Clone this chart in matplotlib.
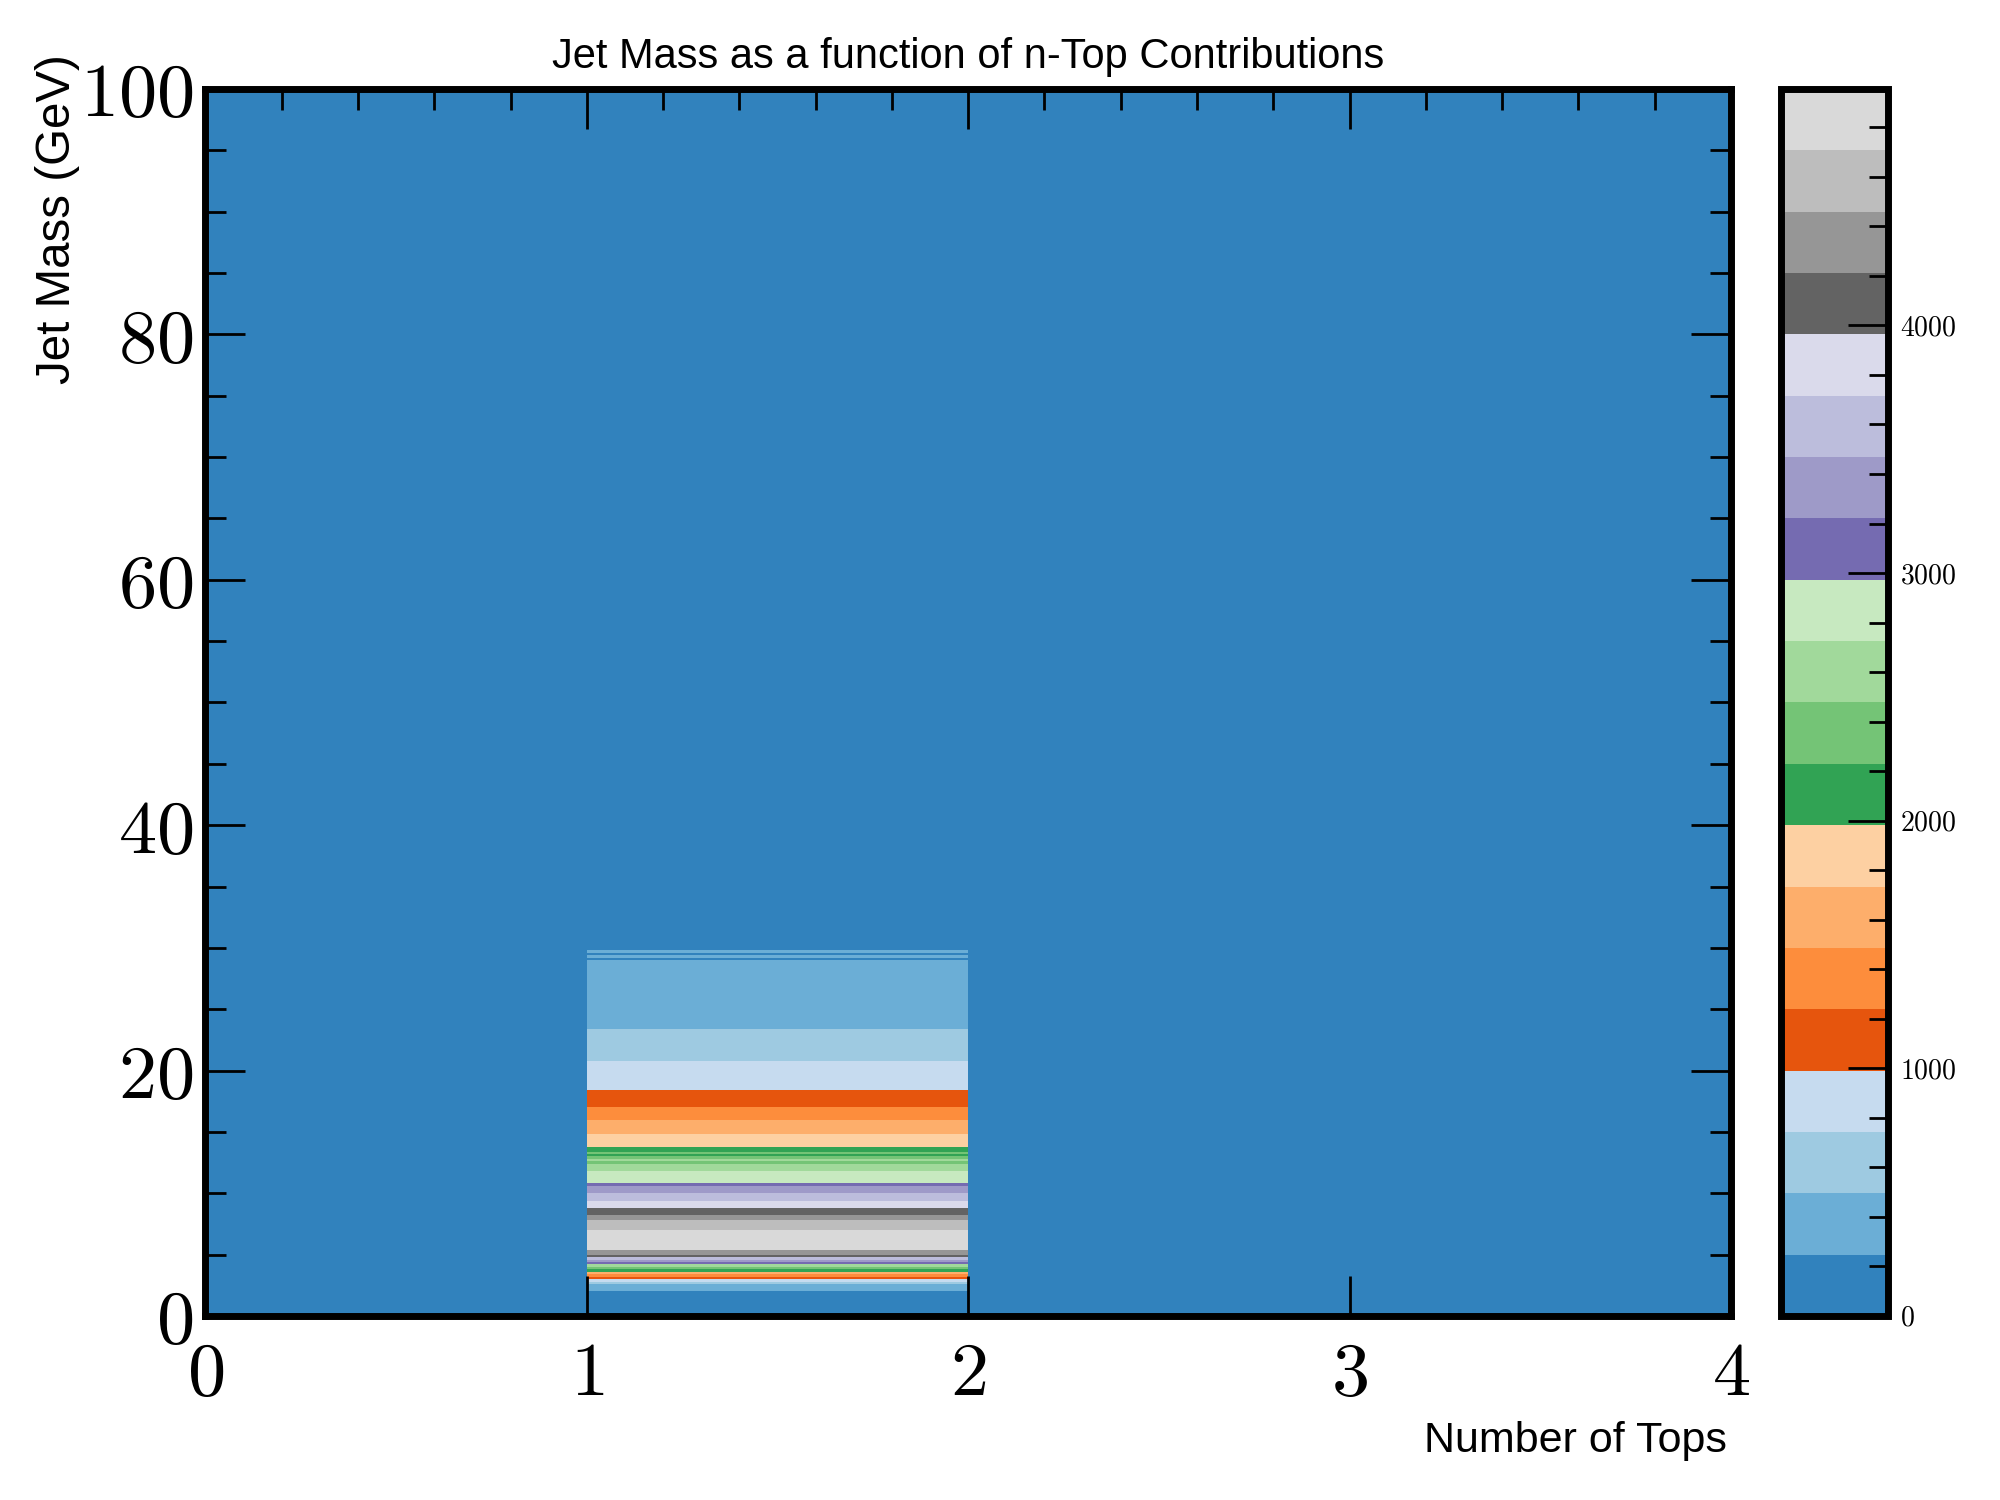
import numpy as np
import matplotlib
matplotlib.use("Agg")
import matplotlib.pyplot as plt
from matplotlib.ticker import MultipleLocator, FormatStrFormatter

# binning of the histogram
ntop_edges = [0, 1, 2, 3, 4]
mass_step = 0.2
mass_max = 100.0

# filled column: events with 1 top, jet mass bins starting at 2.0 GeV
ntop_filled = 1
mass_first = 2.0
counts_1top = [
    310, 390, 470, 620, 860, 1120, 1380, 1620, 2100, 2380,
    2600, 3080, 3350, 3600, 4080, 4300, 4420, 4760, 4850, 4910,
    4955, 4940, 4900, 4830, 4770, 4700, 4640, 4580, 4500, 4420,
    4330, 4200, 4120, 4020, 3950, 3870, 3790, 3700, 3620, 3540,
    3440, 3350, 3260, 3150, 2960, 2920, 2880, 2840, 2790, 2700,
    2650, 2600, 2450, 2520, 2440, 2200, 2260, 2150, 2060, 1950,
    1900, 1860, 1820, 1760, 1700, 1660, 1620, 1580, 1540, 1500,
    1460, 1410, 1370, 1320, 1260, 1220, 1180, 1140, 1100, 1060,
    1020, 1000, 960, 940, 920, 900, 880, 860, 840, 820,
    800, 780, 760, 750, 730, 710, 690, 670, 650, 630,
    610, 590, 570, 550, 530, 515, 500, 490, 480, 470,
    460, 450, 440, 430, 420, 410, 400, 392, 384, 376,
    368, 360, 352, 344, 336, 328, 320, 312, 304, 296,
    288, 280, 272, 266, 260, 240, 255, 235, 252,
]

mass_edges = np.arange(0, mass_max + mass_step / 2, mass_step)
H = np.zeros((len(mass_edges) - 1, len(ntop_edges) - 1))
i0 = int(round(mass_first / mass_step))
H[i0:i0 + len(counts_1top), ntop_filled] = counts_1top

plt.rcParams['mathtext.fontset'] = 'cm'
plt.rcParams['font.family'] = ['Liberation Sans', 'DejaVu Sans']

fig = plt.figure(figsize=(8, 6), dpi=250)
ax = fig.add_axes([0.1027, 0.1227, 0.7628, 0.818])
cax = fig.add_axes([0.8905, 0.1227, 0.0535, 0.818])

mesh = ax.pcolormesh(ntop_edges, mass_edges, H, cmap='tab20c',
                     vmin=0, vmax=H.max(), rasterized=True)
ax.set_xlim(0, 4)
ax.set_ylim(0, 100)

ax.set_title('Jet Mass as a function of n-Top Contributions', fontsize=12)
ax.set_xlabel('Number of Tops', fontsize=12.4, loc='right')
ax.set_ylabel('Jet Mass (GeV)', fontsize=13.7, loc='top')
ax.xaxis.set_label_coords(0.997, -0.086)
ax.yaxis.set_label_coords(-0.082, 1.028)

ax.xaxis.set_major_locator(MultipleLocator(1))
ax.xaxis.set_minor_locator(MultipleLocator(0.2))
ax.yaxis.set_major_locator(MultipleLocator(20))
ax.yaxis.set_minor_locator(MultipleLocator(5))
ax.xaxis.set_major_formatter(FormatStrFormatter('$%d$'))
ax.yaxis.set_major_formatter(FormatStrFormatter('$%d$'))

ax.tick_params(which='both', direction='in', top=True, right=True, width=0.8)
ax.tick_params(which='major', length=11.5, labelsize=22)
ax.tick_params(which='minor', length=6, bottom=False)
ax.tick_params(axis='x', which='major', pad=7)
for s in ax.spines.values():
    s.set_linewidth(2)

cb = fig.colorbar(mesh, cax=cax)
cb.outline.set_linewidth(2)
cax.yaxis.set_major_locator(MultipleLocator(1000))
cax.yaxis.set_minor_locator(MultipleLocator(200))
cax.yaxis.set_major_formatter(FormatStrFormatter('$%d$'))
cax.tick_params(which='both', direction='in', width=0.8, right=True, left=False)
cax.tick_params(which='major', length=11.5, labelsize=8)
cax.tick_params(which='minor', length=5.5)

fig.savefig('out.png', dpi=250)
